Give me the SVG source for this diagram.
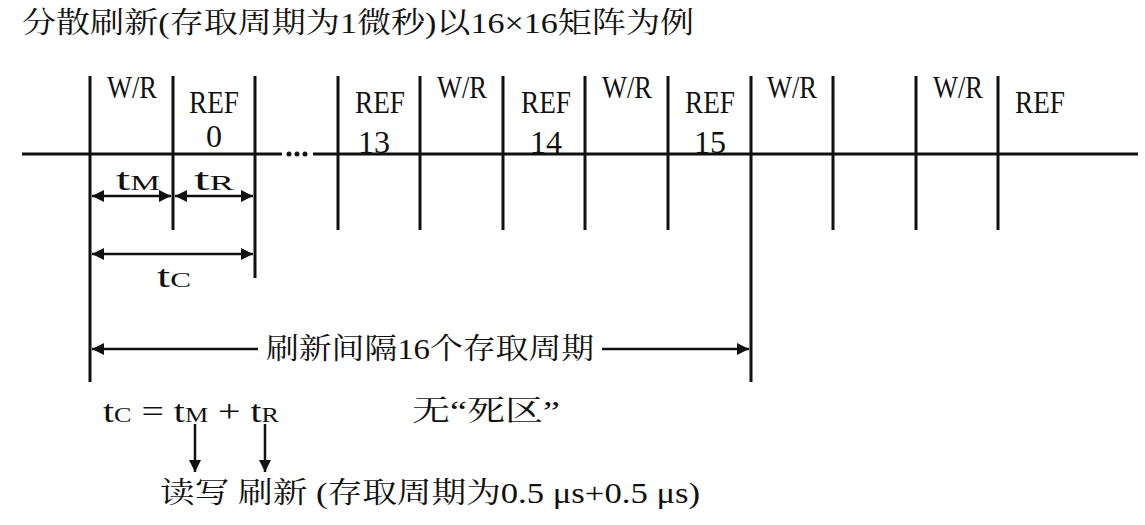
<svg xmlns="http://www.w3.org/2000/svg" width="1145" height="525" viewBox="0 0 1145 525">
<style>
text{font-family:"Liberation Serif","Noto Serif CJK SC","Noto Sans CJK SC",serif;font-size:28px;fill:#111}
.m{text-anchor:middle}
.l{font-size:32px}
.ln{stroke:#111;stroke-width:3;fill:none}
.ar{stroke:#111;stroke-width:2.5;fill:none}
.s{font-size:21px}
.c{font-size:29px}
</style>
<defs>
<marker id="b" viewBox="0 0 10 10" refX="10" refY="5" markerWidth="12" markerHeight="12" orient="auto-start-reverse" markerUnits="userSpaceOnUse"><path d="M0,0L10,5L0,10z" fill="#111"/></marker>
</defs>
<rect width="1145" height="525" fill="#fff"/>
<text class="c" x="22" y="33" textLength="672" lengthAdjust="spacingAndGlyphs">分散刷新(存取周期为1微秒)以16×16矩阵为例</text>
<g id="axis">
<line class="ln" x1="22" y1="154" x2="282" y2="154"/>
<line class="ln" x1="313" y1="154" x2="1138" y2="154"/>
<circle cx="289" cy="154" r="2.5" fill="#111"/><circle cx="297" cy="154" r="2.5" fill="#111"/><circle cx="305" cy="154" r="2.5" fill="#111"/>
</g>
<g id="ticks">
<line class="ln" x1="90" y1="76" x2="90" y2="382"/>
<line class="ln" x1="173" y1="76" x2="173" y2="230"/>
<line class="ln" x1="255" y1="76" x2="255" y2="278"/>
<line class="ln" x1="338" y1="76" x2="338" y2="230"/>
<line class="ln" x1="420" y1="76" x2="420" y2="230"/>
<line class="ln" x1="503" y1="76" x2="503" y2="230"/>
<line class="ln" x1="585" y1="76" x2="585" y2="230"/>
<line class="ln" x1="668" y1="76" x2="668" y2="230"/>
<line class="ln" x1="751" y1="76" x2="751" y2="382"/>
<line class="ln" x1="833" y1="76" x2="833" y2="230"/>
<line class="ln" x1="916" y1="76" x2="916" y2="230"/>
<line class="ln" x1="998" y1="76" x2="998" y2="230"/>
</g>
<g id="slots">
<text class="m l" x="132" y="98" textLength="50" lengthAdjust="spacingAndGlyphs">W/R</text>
<text class="m l" x="214" y="113" textLength="50" lengthAdjust="spacingAndGlyphs">REF</text><text class="m l" x="214" y="147" textLength="16" lengthAdjust="spacingAndGlyphs">0</text>
<text class="m l" x="380" y="113" textLength="50" lengthAdjust="spacingAndGlyphs">REF</text><text class="m l" x="374" y="153" textLength="32" lengthAdjust="spacingAndGlyphs">13</text>
<text class="m l" x="462" y="98" textLength="50" lengthAdjust="spacingAndGlyphs">W/R</text>
<text class="m l" x="546" y="113" textLength="50" lengthAdjust="spacingAndGlyphs">REF</text><text class="m l" x="546" y="153" textLength="32" lengthAdjust="spacingAndGlyphs">14</text>
<text class="m l" x="627" y="98" textLength="50" lengthAdjust="spacingAndGlyphs">W/R</text>
<text class="m l" x="710" y="113" textLength="50" lengthAdjust="spacingAndGlyphs">REF</text><text class="m l" x="710" y="153" textLength="32" lengthAdjust="spacingAndGlyphs">15</text>
<text class="m l" x="792" y="98" textLength="50" lengthAdjust="spacingAndGlyphs">W/R</text>
<text class="m l" x="958" y="98" textLength="50" lengthAdjust="spacingAndGlyphs">W/R</text>
<text class="m l" x="1040" y="113" textLength="50" lengthAdjust="spacingAndGlyphs">REF</text>
</g>
<g id="connectors">
<line class="ar" x1="92" y1="196" x2="171" y2="196" marker-start="url(#b)" marker-end="url(#b)"/>
<line class="ar" x1="175" y1="196" x2="253" y2="196" marker-start="url(#b)" marker-end="url(#b)"/>
<line class="ar" x1="92" y1="254" x2="253" y2="254" marker-start="url(#b)" marker-end="url(#b)"/>
<line class="ar" x1="92" y1="349" x2="258" y2="349" marker-start="url(#b)"/>
<line class="ar" x1="602" y1="349" x2="749" y2="349" marker-end="url(#b)"/>
<line class="ar" x1="195" y1="424" x2="195" y2="472" marker-end="url(#b)"/>
<line class="ar" x1="265" y1="424" x2="265" y2="472" marker-end="url(#b)"/>
</g>
<g id="labels">
<text class="l" x="116" y="190" textLength="44" lengthAdjust="spacingAndGlyphs">t<tspan class="s">M</tspan></text>
<text class="l" x="194" y="190" textLength="40" lengthAdjust="spacingAndGlyphs">t<tspan class="s">R</tspan></text>
<text class="l" x="157" y="287" textLength="34" lengthAdjust="spacingAndGlyphs">t<tspan class="s">C</tspan></text>
<text class="c" x="266" y="359" textLength="328" lengthAdjust="spacingAndGlyphs">刷新间隔16个存取周期</text>
<text class="l" x="103" y="422" textLength="176" lengthAdjust="spacingAndGlyphs">t<tspan class="s">C</tspan> = t<tspan class="s">M</tspan> + t<tspan class="s">R</tspan></text>
<text class="c" x="412" y="421" textLength="148" lengthAdjust="spacingAndGlyphs">无“死区”</text>
<text class="c" x="160" y="503" textLength="540" lengthAdjust="spacingAndGlyphs">读写 刷新 (存取周期为0.5 μs+0.5 μs)</text>
</g>
</svg>
